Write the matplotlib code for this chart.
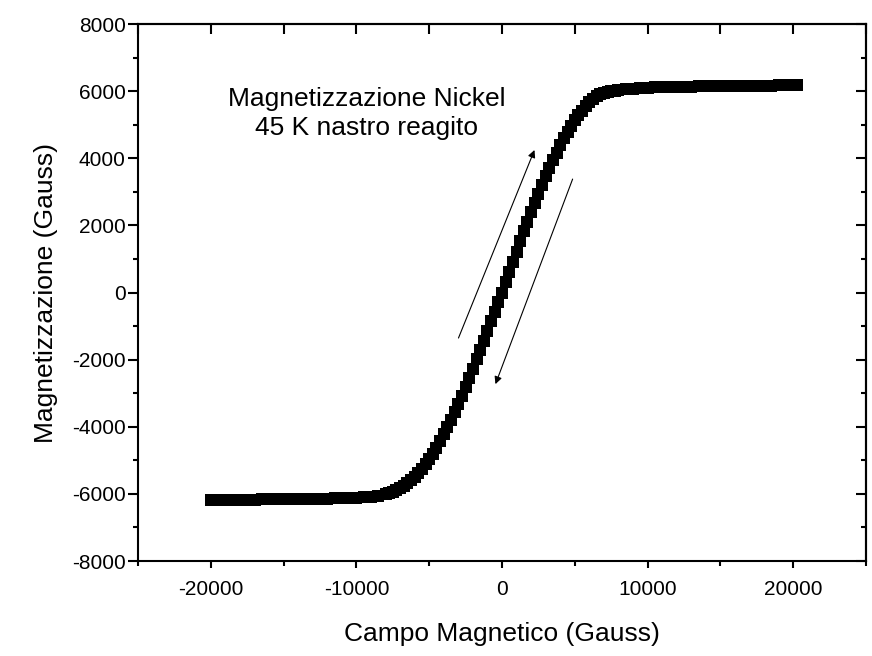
import numpy as np
import matplotlib
matplotlib.use("Agg")
import matplotlib.pyplot as plt
from matplotlib.ticker import MultipleLocator

plt.rcParams['font.family'] = ['Liberation Sans', 'DejaVu Sans']
plt.rcParams['axes.unicode_minus'] = False

# campo applicato (Gauss)
field = [
    -20000, -19500, -19000, -18500, -18000, -17500, -17000, -16500,
    -16000, -15500, -15000, -14500, -14000, -13500, -13000, -12500,
    -12000, -11500, -11000, -10500, -10000, -9500, -9000, -8500,
    -8000, -7750, -7500, -7250, -7000, -6750, -6500, -6250,
    -6000, -5750, -5500, -5250, -5000, -4750, -4500, -4250,
    -4000, -3750, -3500, -3250, -3000, -2750, -2500, -2250,
    -2000, -1750, -1500, -1250, -1000, -750, -500, -250,
    0, 250, 500, 750, 1000, 1250, 1500, 1750,
    2000, 2250, 2500, 2750, 3000, 3250, 3500, 3750,
    4000, 4250, 4500, 4750, 5000, 5250, 5500, 5750,
    6000, 6250, 6500, 6750, 7000, 7250, 7500, 7750,
    8000, 8500, 9000, 9500, 10000, 10500, 11000, 11500,
    12000, 12500, 13000, 13500, 14000, 14500, 15000, 15500,
    16000, 16500, 17000, 17500, 18000, 18500, 19000, 19500, 20000, 20250,
]

# magnetizzazione (Gauss)
magnetization = [
    -6180, -6178, -6176, -6174, -6172, -6170, -6168, -6165,
    -6163, -6160, -6158, -6155, -6152, -6149, -6146, -6143,
    -6140, -6136, -6130, -6124, -6115, -6100, -6080, -6050,
    -6010, -5980, -5940, -5890, -5830, -5760, -5680, -5590,
    -5490, -5380, -5250, -5110, -4960, -4800, -4620, -4430,
    -4230, -4020, -3800, -3560, -3320, -3070, -2810, -2540,
    -2270, -1990, -1710, -1430, -1150, -860, -570, -280,
    0, 305, 610, 915, 1220, 1520, 1820, 2110,
    2400, 2680, 2950, 3210, 3460, 3700, 3940, 4170,
    4390, 4590, 4780, 4960, 5130, 5280, 5420, 5560,
    5680, 5780, 5850, 5910, 5950, 5980, 6000, 6015,
    6030, 6055, 6075, 6090, 6100, 6110, 6118, 6124,
    6130, 6134, 6138, 6142, 6145, 6148, 6151, 6154,
    6156, 6158, 6160, 6163, 6165, 6167, 6169, 6171, 6173, 6174,
]

# frecce (inizio, fine) per i due rami
arrow_up = [(-2990, -1356), (2230, 4246)]
arrow_down = [(4850, 3380), (-450, -2730)]

fig = plt.figure(figsize=(8.72, 6.56), dpi=100)
ax = fig.add_axes([0.1583, 0.1448, 0.8348, 0.8186])

ax.plot(field, magnetization, linestyle='none', marker='s',
        markersize=8, color='black', markeredgewidth=0)

for start, end in (arrow_up, arrow_down):
    ax.annotate('', xy=end, xytext=start,
                arrowprops=dict(arrowstyle='-|>', lw=0.8, color='black',
                                mutation_scale=11, shrinkA=0, shrinkB=0))

ax.text(-9300, 5330, "Magnetizzazione Nickel\n45 K nastro reagito",
        ha='center', va='center', fontsize=19, linespacing=1.3)

ax.set_xlim(-25000, 25000)
ax.set_ylim(-8000, 8000)
ax.xaxis.set_major_locator(MultipleLocator(10000))
ax.xaxis.set_minor_locator(MultipleLocator(5000))
ax.yaxis.set_major_locator(MultipleLocator(2000))
ax.yaxis.set_minor_locator(MultipleLocator(1000))

for s in ax.spines.values():
    s.set_linewidth(1.5)

ax.tick_params(axis='x', which='major', direction='out', length=5, width=1.5,
               labelsize=15, pad=9)
ax.tick_params(axis='x', which='minor', direction='out', length=3.6, width=1.5)
ax.tick_params(axis='y', which='major', direction='out', length=7, width=1.5,
               labelsize=15, pad=2)
ax.tick_params(axis='y', which='minor', direction='out', length=3.6, width=1.5)

# assi speculari con tacche verso l'interno
top = ax.secondary_xaxis('top')
top.xaxis.set_major_locator(MultipleLocator(5000))
top.tick_params(direction='in', length=7, width=1.5, labeltop=False)
right = ax.secondary_yaxis('right')
right.yaxis.set_major_locator(MultipleLocator(2000))
right.yaxis.set_minor_locator(MultipleLocator(1000))
right.tick_params(which='major', direction='in', length=7, width=1.5, labelright=False)
right.tick_params(which='minor', direction='in', length=3.6, width=1.5)
for sec in (top, right):
    for s in sec.spines.values():
        s.set_linewidth(1.5)

ax.set_xlabel("Campo Magnetico (Gauss)", fontsize=19, labelpad=16)
ax.set_ylabel("Magnetizzazione (Gauss)", fontsize=19, labelpad=10)

fig.savefig("out.png", dpi=100)
